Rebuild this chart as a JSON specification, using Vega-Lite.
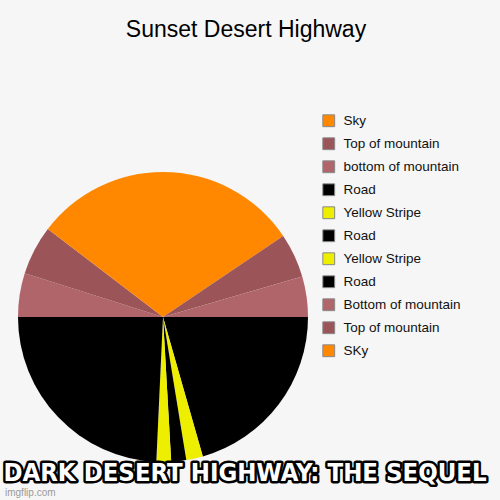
{
  "$schema": "https://vega.github.io/schema/vega-lite/v6.json",
  "width": 500,
  "height": 500,
  "autosize": "none",
  "padding": 0,
  "background": "#f6f6f6",
  "view": {"stroke": null},
  "config": {"font": "Liberation Sans"},
  "title": {
    "text": "Sunset Desert Highway",
    "fontSize": 23,
    "fontWeight": "normal",
    "color": "#000",
    "anchor": "middle",
    "frame": "group",
    "dx": -4,
    "offset": -42
  },
  "layer": [
    {
      "data": {
        "values": [
          {"id": "01 Sky", "value": 56},
          {"id": "02 Top of mountain", "value": 17.8},
          {"id": "03 bottom of mountain", "value": 16.2},
          {"id": "04 Road", "value": 74.1},
          {"id": "05 Yellow Stripe", "value": 6.7},
          {"id": "06 Road", "value": 6},
          {"id": "07 Yellow Stripe", "value": 5.9},
          {"id": "08 Road", "value": 87.4},
          {"id": "09 Bottom of mountain", "value": 17.5},
          {"id": "10 Top of mountain", "value": 19.9},
          {"id": "11 SKy", "value": 52.6}
        ]
      },
      "mark": {"type": "arc", "outerRadius": 145},
      "encoding": {
        "x": {"value": 163},
        "y": {"value": 317},
        "theta": {"field": "value", "type": "quantitative", "stack": true},
        "order": {"field": "id", "type": "ordinal"},
        "color": {
          "field": "id",
          "type": "nominal",
          "sort": "ascending",
          "scale": {
            "range": ["#ff8800", "#9b5458", "#b0656a", "#000000", "#eeee00", "#000000", "#eeee00", "#000000", "#b0656a", "#9b5458", "#ff8800"]
          },
          "legend": {
            "title": null,
            "orient": "none",
            "legendX": 322,
            "legendY": 114,
            "labelExpr": "slice(datum.label, 3)",
            "labelFontSize": 13.5,
            "labelColor": "#111",
            "symbolType": "square",
            "symbolSize": 140,
            "symbolStrokeColor": "#888",
            "symbolStrokeWidth": 1,
            "symbolOpacity": 1,
            "rowPadding": 6,
            "labelOffset": 8
          }
        }
      }
    },
    {
      "data": {"values": [{"caption": "DARK DESERT HIGHWAY: THE SEQUEL"}]},
      "mark": {
        "type": "text",
        "font": "DejaVu Sans Condensed",
        "fontWeight": "bold",
        "fontSize": 25.5,
        "fill": "#000",
        "stroke": "#000",
        "strokeWidth": 5,
        "strokeJoin": "round",
        "align": "center",
        "baseline": "alphabetic"
      },
      "encoding": {"text": {"field": "caption"}, "x": {"value": 245}, "y": {"value": 481}}
    },
    {
      "data": {"values": [{"caption": "DARK DESERT HIGHWAY: THE SEQUEL"}]},
      "mark": {
        "type": "text",
        "font": "DejaVu Sans Condensed",
        "fontWeight": "bold",
        "fontSize": 25.5,
        "fill": "#ffffff",
        "align": "center",
        "baseline": "alphabetic"
      },
      "encoding": {"text": {"field": "caption"}, "x": {"value": 245}, "y": {"value": 481}}
    },
    {
      "data": {"values": [{"mark": "imgflip.com"}]},
      "mark": {
        "type": "text",
        "fontSize": 10,
        "fill": "#9a9a9a",
        "align": "left",
        "baseline": "alphabetic"
      },
      "encoding": {"text": {"field": "mark"}, "x": {"value": 5}, "y": {"value": 496}}
    }
  ]
}
